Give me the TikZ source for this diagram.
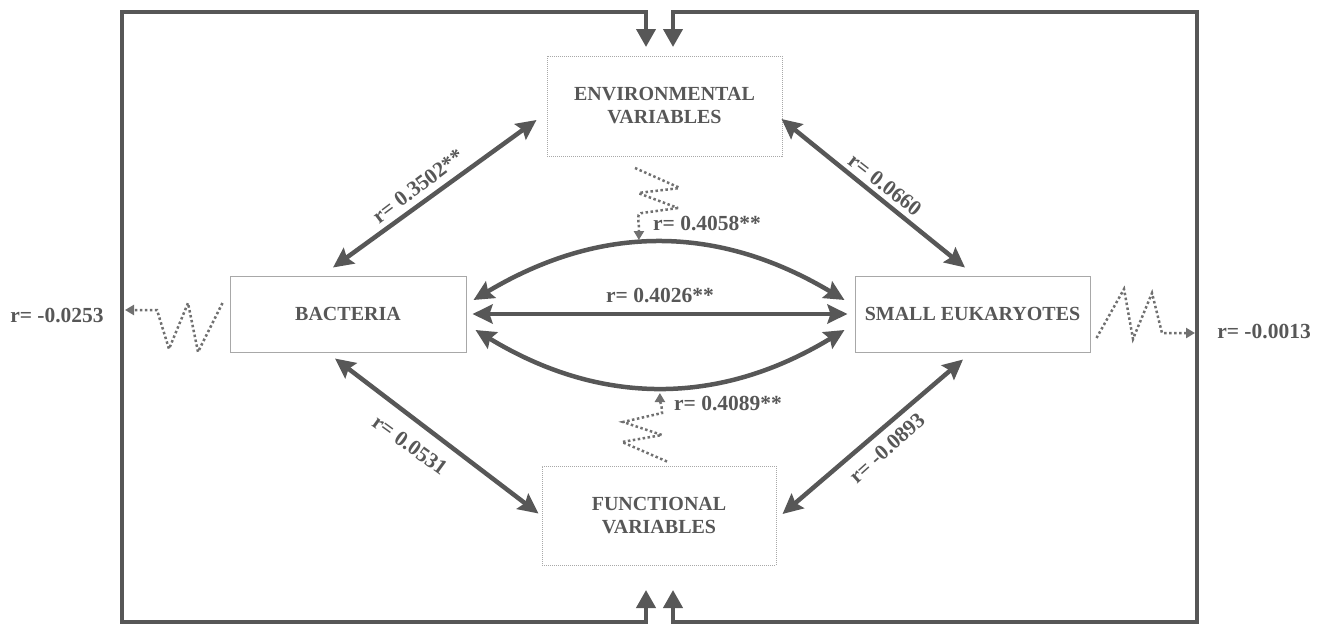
\documentclass[tikz,border=0pt]{standalone}
\usepackage{fontspec}
\setmainfont{Liberation Serif}
\usetikzlibrary{arrows.meta,calc}
\definecolor{dg}{HTML}{575757}
\definecolor{bx}{HTML}{A8A8A8}
\newcommand\bxfont{\fontsize{20}{23}\selectfont\bfseries}
\newcommand\lbfont{\fontsize{21.5}{24}\selectfont\bfseries}
\begin{document}
\begin{tikzpicture}[x=1pt,y=-1pt,
  solidbox/.style={draw=bx,line width=1pt,inner sep=0pt,align=center,text=dg,font=\bxfont},
  dotbox/.style={solidbox,dash pattern=on 1pt off 1pt},
  rel/.style={draw=dg,line width=4.5pt,{Stealth[length=20pt,width=19pt,inset=3pt]}-{Stealth[length=20pt,width=19pt,inset=3pt]}},
  lab/.style={text=dg,font=\lbfont,inner sep=0pt},
  sq/.style={draw=dg!85,line width=2.5pt,dash pattern=on 2.5pt off 2.5pt,-{Triangle[length=9pt,width=10pt]}},
  framearr/.style={draw=dg,line width=4pt,line join=miter,{Triangle[length=18pt,width=19pt]}-{Triangle[length=18pt,width=19pt]}}]
\useasboundingbox (0,0) rectangle (1324,627);

% boxes
\node[dotbox,minimum width=235pt,minimum height=100pt] (env) at (664.5,106) {ENVIRONMENTAL\\VARIABLES};
\node[dotbox,minimum width=234pt,minimum height=99pt] (fun) at (659,515.5) {FUNCTIONAL\\VARIABLES};
\node[solidbox,minimum width=236pt,minimum height=76pt] (bac) at (348,314) {BACTERIA};
\node[solidbox,minimum width=235pt,minimum height=76pt] (seu) at (972.5,314) {SMALL EUKARYOTES};

% outer frame
\coordinate (ta) at (646,47);
\coordinate (tb) at (673,47);
\coordinate (ba) at (646,590);
\coordinate (bb) at (673,590);
\coordinate (la) at (646,622);
\coordinate (lb) at (122,622);
\coordinate (lc) at (122,12);
\coordinate (ld) at (646,12);
\coordinate (ra) at (673,622);
\coordinate (rb) at (1197,622);
\coordinate (rc) at (1197,12);
\coordinate (rd) at (673,12);
\draw[framearr] (ba) -- (la) -- (lb) -- (lc) -- (ld) -- (ta);
\draw[framearr] (bb) -- (ra) -- (rb) -- (rc) -- (rd) -- (tb);

% relations
\draw[rel] ($(bac.north)+(-15,-8)$) -- ($(env.west)+(-10,14)$);
\draw[rel] ($(env.east)+(-1,13)$) -- ($(seu.north)+(-7.5,-8)$);
\draw[rel] ($(bac.south)+(-13,6)$) -- ($(fun.west)+(-3,-2)$);
\draw[rel] ($(seu.south)+(-9.5,7)$) -- ($(fun.east)+(6,-1.5)$);
\draw[rel,shorten <=6pt,shorten >=7pt] (bac.east) -- (seu.west);
\draw[rel] ($(bac.east)+(7,-14)$) .. controls ($(bac.east)+(134,-90)$) and ($(seu.west)+(-137,-90)$) .. ($(seu.west)+(-10,-14)$);
\draw[rel] ($(bac.east)+(9,16)$) .. controls ($(bac.east)+(134,92)$) and ($(seu.west)+(-135,92)$) .. ($(seu.west)+(-10,16)$);

% labels on relations
\node[lab,rotate=37] (l1) at (418,186) {r= 0.3502**};
\node[lab,rotate=-38] (l2) at (885,185) {r= 0.0660};
\node[lab,rotate=-36] (l3) at (410,445) {r= 0.0531};
\node[lab,rotate=42] (l4) at (887,448) {r= -0.0893};
\node[lab] (l5) at (660,295) {r= 0.4026**};
\node[lab] (l6) at (707,223) {r= 0.4058**};
\node[lab] (l7) at (728,403) {r= 0.4089**};
\node[lab] (l8) at (57,315) {r= -0.0253};
\node[lab] (l9) at (1264,331) {r= -0.0013};

% squiggles (unexplained variation)
\coordinate (lend) at (125,310);
\coordinate (rend) at (1195,333);
\draw[sq,rounded corners=1pt] (635,168) -- (680,188) -- (638,193) -- (678,208) -- (642,213) to[out=190,in=90] ($(l6.west)+(-14,5)$) -- ($(l6.west)+(-14,17)$);
\draw[sq] ($(fun.north)+(8,-4)$) -- (622,442) -- (662,435) -- (623,422) -- (662,413) to[out=90,in=-90] ($(l7.west)+(-14,-10)$);
\draw[sq] ($(bac.west)+(-7,-11)$) -- (198,352) -- (188,303) -- (169,349) -- (157,310) -- (lend);
\draw[sq] ($(seu.east)+(6,24)$) -- (1124,289) -- (1133,339) -- (1152,293) -- (1162,333) -- (rend);
\end{tikzpicture}
\end{document}
